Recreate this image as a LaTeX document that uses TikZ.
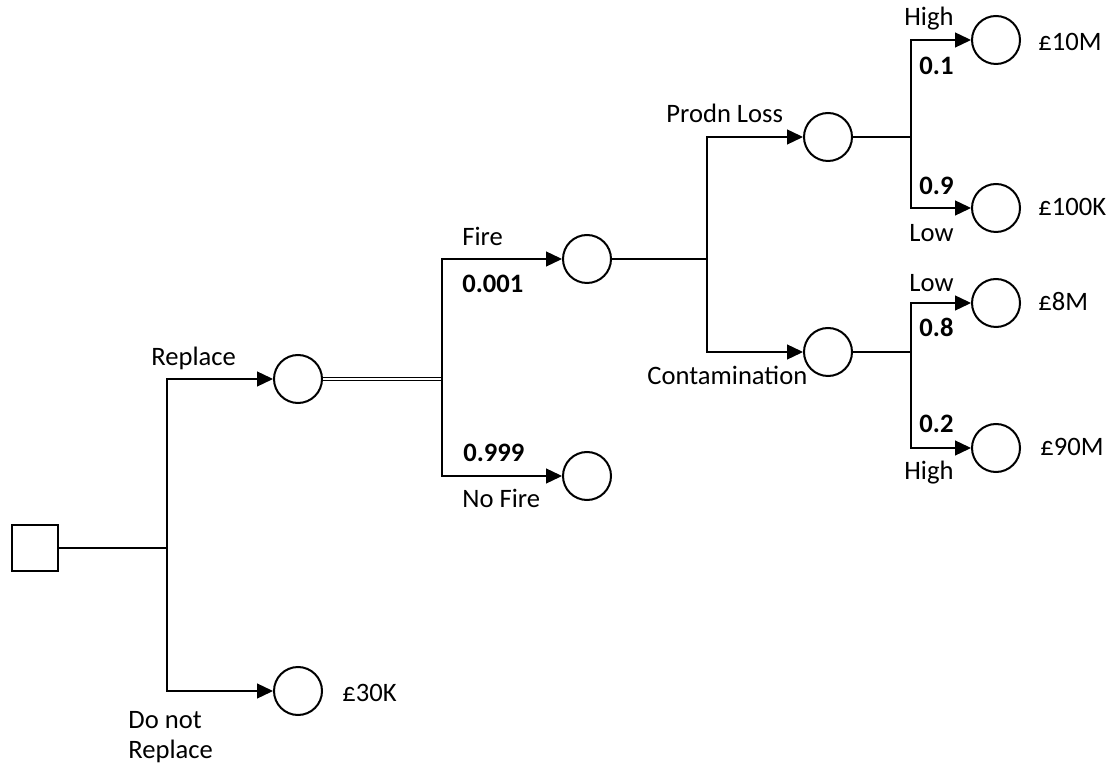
\documentclass[tikz,border=0pt]{standalone}
\usepackage{fontspec}
\setmainfont{Carlito}
\usetikzlibrary{arrows.meta}
\tikzset{
  chance/.style={circle,draw,line width=1pt,minimum size=24pt,inner sep=0pt},
  decision/.style={rectangle,draw,line width=1pt,minimum size=23pt,inner sep=0pt},
  branch/.style={-{Triangle[length=8pt,width=7.5pt]},line width=0.65pt},
  lbl/.style={anchor=base west,inner sep=0pt},
  prob/.style={lbl,font=\fontsize{13.3}{16}\selectfont\bfseries}
}
\begin{document}
\begin{tikzpicture}[x=0.5pt,y=-0.5pt,font=\fontsize{13.3}{16}\selectfont]
\useasboundingbox (0,0) rectangle (1106,763);
% decision and chance nodes
\draw 	(35,548) node[decision](d0){}
		(298,379) node[chance](c1){}   (298,691) node[chance](c2){};
\draw 	(587,259) node[chance](c3){}   (587,476) node[chance](c4){};
\draw 	(828,137) node[chance](c5){}   (828,352) node[chance](c6){};
\draw 	(996,40)  node[chance](e1){}   (996,208) node[chance](e2){}
		(996,303) node[chance](e3){}   (996,448) node[chance](e4){};
% junctions
\coordinate (j0) at (167,548);
\coordinate (j1) at (442,379);
\coordinate (j2) at (707,259);
\coordinate (j3) at (911,137);
\coordinate (j4) at (911,352);
% branches
\draw[line width=1.1pt] (d0) -- (j0);
\draw[branch] (j0) |- (c1);
\draw[branch] (j0) |- (c2);
\draw[double,double distance=1pt,line width=0.5pt] (c1) -- (j1);
\draw[branch] (j1) |- (c3);
\draw[branch] (j1) |- (c4);
\draw[line width=0.65pt] (c3) -- (j2);
\draw[branch] (j2) |- (c5);
\draw[branch] (j2) |- (c6);
\draw[line width=0.65pt] (c5) -- (j3);
\draw[branch] (j3) |- (e1);
\draw[branch] (j3) |- (e2);
\draw[line width=0.65pt] (c6) -- (j4);
\draw[branch] (j4) |- (e3);
\draw[branch] (j4) |- (e4);
% labels
\node[lbl] (t1)  at (151,366) {Replace};
\node[lbl] (t2)  at (128,728) {Do not};
\node[lbl] (t3)  at (128,758) {Replace};
\node[lbl] (t4)  at (462,246) {Fire};
\node[prob](p1)  at (462,293) {0.001};
\node[prob](p2)  at (463,462) {0.999};
\node[lbl] (t5)  at (462,508) {No Fire};
\node[lbl] (t6)  at (666,123) {Prodn Loss};
\node[lbl] (t7)  at (647,385) {Contamination};
\node[lbl] (t8)  at (904,26)  {High};
\node[prob](p3)  at (919,75)  {0.1};
\node[prob](p4)  at (919,195) {0.9};
\node[lbl] (t9)  at (909,242) {Low};
\node[lbl] (t10) at (909,292) {Low};
\node[prob](p5)  at (919,337) {0.8};
\node[prob](p6)  at (919,433) {0.2};
\node[lbl] (t11) at (904,480) {High};
% values
\node[lbl] (v1) at (1038,51)  {£10M};
\node[lbl] (v2) at (1038,216) {£100K};
\node[lbl] (v3) at (1038,311) {£8M};
\node[lbl] (v4) at (1040,456) {£90M};
\node[lbl] (v5) at (342,701)  {£30K};
\end{tikzpicture}
\end{document}
